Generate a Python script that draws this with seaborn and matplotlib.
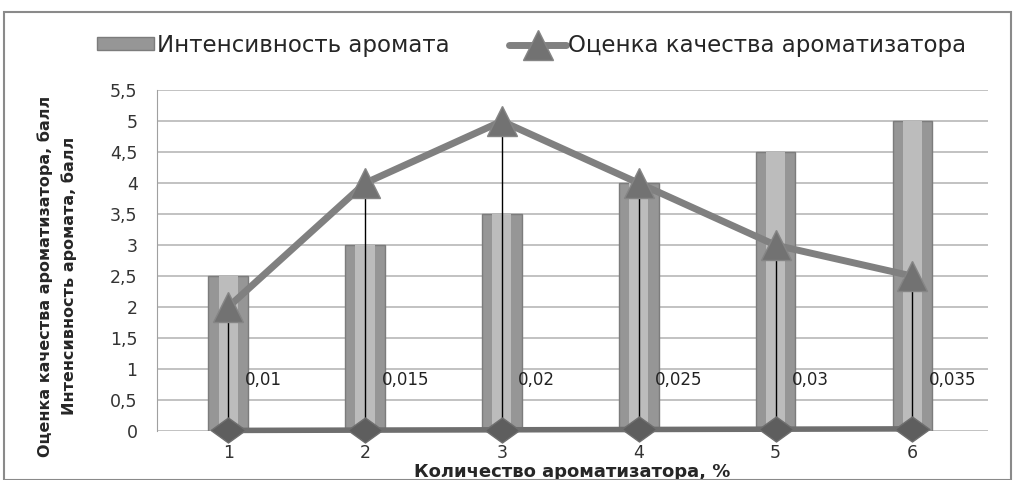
"""Aroma intensity and flavouring quality vs. flavouring amount."""

import numpy as np
import pandas as pd
import matplotlib
matplotlib.use("Agg")
import matplotlib.pyplot as plt
from matplotlib.ticker import MultipleLocator, FuncFormatter
from matplotlib.patches import Rectangle
import seaborn as sns

categories = ["1", "2", "3", "4", "5", "6"]
intensity = [2.5, 3.0, 3.5, 4.0, 4.5, 5.0]
quality = [2.0, 4.0, 5.0, 4.0, 3.0, 2.5]
amount = [0.01, 0.015, 0.02, 0.025, 0.03, 0.035]
amount_labels = ["0,01", "0,015", "0,02", "0,025", "0,03", "0,035"]

df = pd.DataFrame({"cat": categories, "intensity": intensity,
                   "quality": quality, "amount": amount})

sns.set_style("white")
plt.rcParams["font.family"] = ["DejaVu Sans"]
narrow = ["DejaVu Sans Condensed", "DejaVu Sans"]

fig = plt.figure(figsize=(10.13, 4.8), dpi=100)
ax = fig.add_axes([0.155, 0.102, 0.82, 0.71])

# cylinder look: dark outer bar, lighter core
sns.barplot(data=df, x="cat", y="intensity", ax=ax, width=0.29,
            color="#969696", edgecolor="#7c7c7c", linewidth=1.0,
            saturation=1, label="Интенсивность аромата")
sns.barplot(data=df, x="cat", y="intensity", ax=ax, width=0.14,
            color="#bcbcbc", linewidth=0, saturation=1)
if ax.get_legend() is not None:
    ax.get_legend().remove()
pos = np.arange(len(categories))

# high-low lines
ax.vlines(pos, df["amount"], df["quality"], color="black", lw=1, zorder=4)

ax.plot(pos, df["quality"], color="#808080", lw=5, marker="^", ms=22,
        markerfacecolor="#727272", markeredgecolor="#858585", zorder=5,
        clip_on=False, label="Оценка качества ароматизатора")
wide_diamond = [(-1, 0), (0, 0.72), (1, 0), (0, -0.72), (-1, 0)]
ax.plot(pos, df["amount"], color="#6e6e6e", lw=4, marker=wide_diamond,
        ms=25, markerfacecolor="#5e5e5e", markeredgecolor="#6e6e6e",
        zorder=5, clip_on=False)

for p, lbl in zip(pos, amount_labels):
    ax.text(p + 0.12, 0.83, lbl, fontsize=12, va="center", ha="left",
            color="#222222", zorder=6)

ax.set_ylim(0, 5.5)
ax.set_xlim(-0.52, 5.55)
ax.yaxis.set_major_locator(MultipleLocator(0.5))
ax.yaxis.set_major_formatter(FuncFormatter(
    lambda v, _: f"{v:g}".replace(".", ",")))
ax.grid(axis="y", color="#b8b8b8", lw=1.2)
ax.set_axisbelow(True)
for s in ["top", "right", "bottom"]:
    ax.spines[s].set_visible(False)
ax.spines["left"].set_color("#a0a0a0")
ax.tick_params(axis="y", length=6, color="#a0a0a0", labelsize=12.5,
               labelcolor="#333333", pad=8)
ax.tick_params(axis="x", length=0, labelsize=12.5, labelcolor="#333333",
               pad=9)

ax.set_xlabel("Количество ароматизатора, %", fontsize=13, fontweight="bold",
              labelpad=1)
ax.set_ylabel("Оценка качества ароматизатора, балл\nИнтенсивность аромата, балл",
              fontsize=11.5, fontweight="bold", family=narrow,
              labelpad=24, linespacing=1.6)
ax.yaxis.label.set_y(0.455)

h, l = ax.get_legend_handles_labels()
bar_h = [x for x, t in zip(h, l) if t == "Интенсивность аромата"][0]
line_h = [x for x, t in zip(h, l) if t == "Оценка качества ароматизатора"][0]
fig.legend([bar_h, line_h],
           ["Интенсивность аромата", "Оценка качества ароматизатора"],
           loc="center", bbox_to_anchor=(0.525, 0.905), ncol=2,
           frameon=False, handlelength=2.5, handleheight=0.5,
           columnspacing=2.6, handletextpad=0.1,
           prop={"family": narrow, "size": 16.5})

fig.patches.append(Rectangle((0.004, 0.0), 0.994, 0.974,
                             transform=fig.transFigure, fill=False,
                             edgecolor="#8a8a8a", lw=1.5))

fig.savefig("out.png", dpi=100)
